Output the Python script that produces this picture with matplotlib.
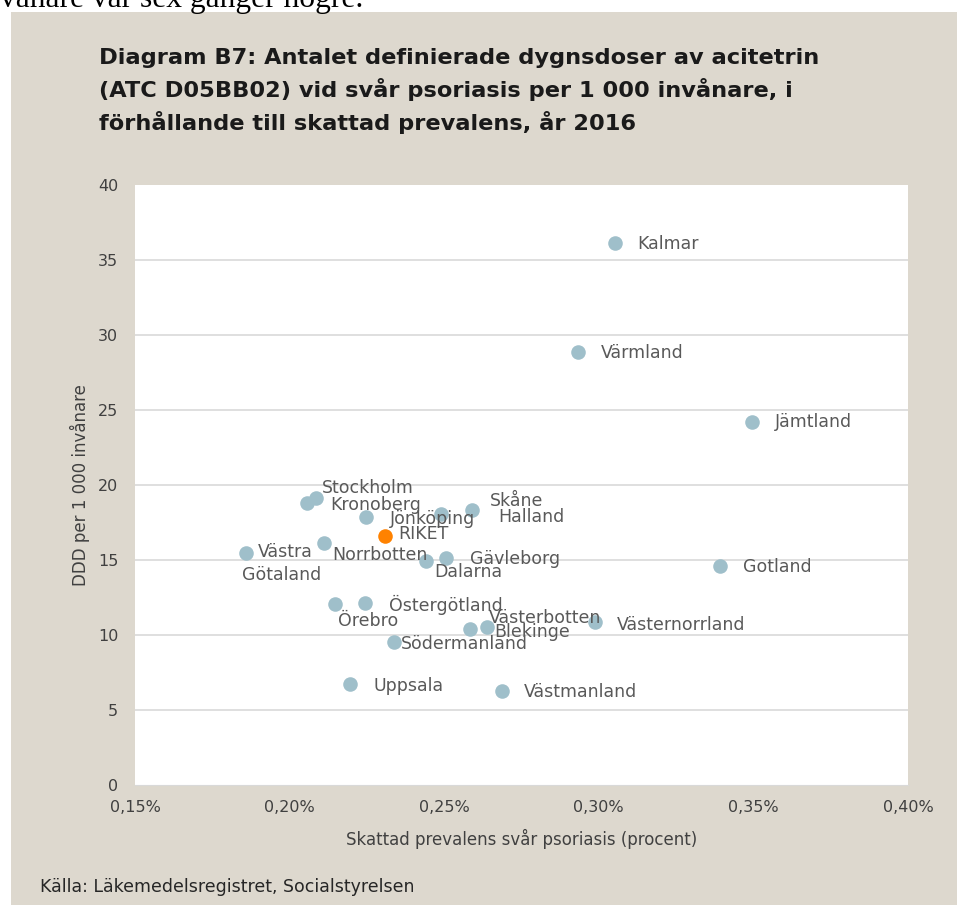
import numpy as np
import matplotlib.pyplot as plt
from matplotlib.patches import Rectangle

# data (prevalens i procent, DDD per 1 000 invånare)
lan = ['Stockholm', 'Kronoberg', 'Jönköping', 'Skåne', 'Halland', 'Norrbotten',
       'Västra Götaland', 'Dalarna', 'Gävleborg', 'Örebro', 'Östergötland',
       'Södermanland', 'Västerbotten', 'Blekinge', 'Uppsala', 'Västmanland',
       'Västernorrland', 'Gotland', 'Jämtland', 'Värmland', 'Kalmar']
prevalens = [0.2085, 0.2055, 0.2246, 0.2489, 0.2591, 0.2111,
             0.1860, 0.2442, 0.2505, 0.2146, 0.2243,
             0.2339, 0.2583, 0.2639, 0.2195, 0.2687,
             0.2988, 0.3392, 0.3496, 0.2933, 0.3052]
ddd = [19.15, 18.78, 17.89, 18.05, 18.33, 16.11,
       15.49, 14.95, 15.15, 12.05, 12.15,
       9.53, 10.42, 10.55, 6.73, 6.27,
       10.87, 14.60, 24.20, 28.87, 36.13]
riket_x = [0.2310]
riket_y = [16.58]

xticks = [0.15, 0.20, 0.25, 0.30, 0.35, 0.40]
yticks = [0, 5, 10, 15, 20, 25, 30, 35, 40]

# label offsets in pixels (right, up) from the point
off = {'Stockholm': (6, 10), 'Kronoberg': (24, -2), 'Jönköping': (24, -2),
       'Skåne': (49, 13), 'Halland': (26, -7), 'Norrbotten': (8, -12),
       'Dalarna': (8, -11), 'Gävleborg': (24, -1), 'Örebro': (3, -17),
       'Östergötland': (24, -2), 'Södermanland': (6, -2), 'Västerbotten': (19, 11),
       'Blekinge': (7, -5), 'Uppsala': (24, -2), 'Västmanland': (22, -1),
       'Västernorrland': (22, -3), 'Gotland': (23, -1), 'Jämtland': (23, 0),
       'Värmland': (23, -1), 'Kalmar': (22, -1)}

W, H = 957, 905
fig = plt.figure(figsize=(W / 100, H / 100), dpi=100)
fig.patch.set_facecolor('white')

# beige panel
fig.patches.append(Rectangle((11 / W, 0), 1, 1 - 12 / H, transform=fig.transFigure,
                             facecolor='#DDD8CE', edgecolor='none', zorder=-5))
fig.text(0, 1 - 7 / H, 'vånare var sex gånger högre.', family='Liberation Serif',
         fontsize=22.7, va='baseline', ha='left', color='black')

fig.text(99 / W, 1 - 48 / H, 'Diagram B7: Antalet definierade dygnsdoser av acitetrin\n'
         '(ATC D05BB02) vid svår psoriasis per 1 000 invånare, i\n'
         'förhållande till skattad prevalens, år 2016',
         fontsize=16.2, fontweight='bold', va='top', ha='left', linespacing=1.53,
         color='#1a1a1a')

ax = fig.add_axes([135 / W, 120 / H, 773 / W, 600 / H])
ax.set_facecolor('white')
ax.set_xlim(0.15, 0.40)
ax.set_ylim(0, 40)
ax.set_xticks(xticks)
ax.set_xticklabels([f'{v:.2f}%'.replace('.', ',') for v in xticks])
ax.set_yticks(yticks)
ax.set_yticklabels([str(v) for v in yticks])
ax.tick_params(length=0, labelsize=11.5, labelcolor='#404040')
ax.tick_params(axis='y', pad=12)
ax.tick_params(axis='x', pad=11)
for s in ['top', 'left', 'right']:
    ax.spines[s].set_visible(False)
ax.spines['bottom'].set_color('#D9D9D9')
for v in yticks[1:-1]:
    ax.axhline(v, color='#D9D9D9', lw=1.2, zorder=1)

ax.scatter(prevalens, ddd, s=110, color='#9FBFCA', zorder=3, linewidths=0)
ax.scatter(riket_x, riket_y, s=110, color='#FF8200', zorder=3, linewidths=0)

lc = '#595959'
fs = 12.5
for name, x, y in zip(lan, prevalens, ddd):
    if name == 'Västra Götaland':
        ax.annotate('Västra', (x, y), xytext=(12 * 0.72, 1 * 0.72), textcoords='offset points',
                    ha='left', va='center', fontsize=fs, color=lc, zorder=4)
        ax.annotate('Götaland', (x, y), xytext=(-4 * 0.72, -22 * 0.72), textcoords='offset points',
                    ha='left', va='center', fontsize=fs, color=lc, zorder=4)
        continue
    dx, dy = off[name]
    ax.annotate(name, (x, y), xytext=(dx * 0.72, dy * 0.72), textcoords='offset points',
                ha='left', va='center', fontsize=fs, color=lc, zorder=4)
ax.annotate('RIKET', (riket_x[0], riket_y[0]), xytext=(13 * 0.72, 2 * 0.72),
            textcoords='offset points', ha='left', va='center', fontsize=fs, color=lc, zorder=4)

ax.set_ylabel('DDD per 1 000 invånare', fontsize=12, color='#404040', labelpad=6)
ax.set_xlabel('Skattad prevalens svår psoriasis (procent)', fontsize=12, color='#404040',
              labelpad=10)
fig.text(40 / W, 1 - 887 / H, 'Källa: Läkemedelsregistret, Socialstyrelsen', fontsize=12.5,
         color='#262626', va='center', ha='left')

fig.savefig('out.png', dpi=100)
